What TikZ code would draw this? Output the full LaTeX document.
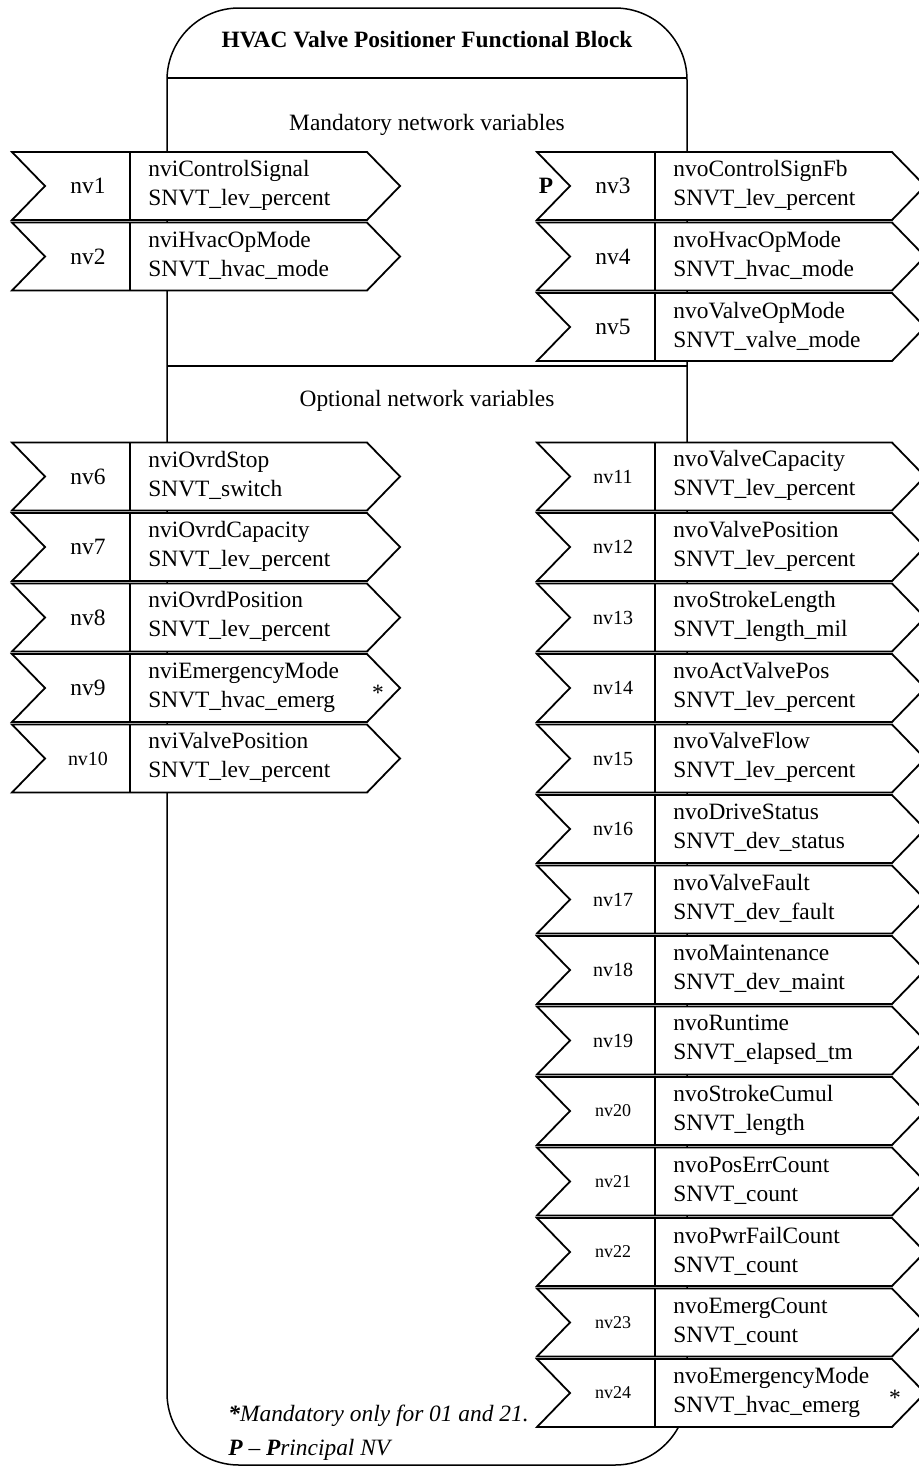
\documentclass[tikz,border=0pt]{standalone}
\usepackage{fontspec}
\setmainfont{Liberation Serif}

\newcommand{\nvbig}{\fontsize{11.7}{14.5}\selectfont}
\newcommand{\nvmid}{\fontsize{10}{12}\selectfont}
\newcommand{\nvsmall}{\fontsize{9}{11}\selectfont}

\tikzset{
    blockline/.style={draw=black, line width=0.75pt},
    nvframe/.style={draw=black, line width=0.9pt, fill=white, line join=miter},
    nvtext/.style={anchor=west, align=left, inner sep=0pt, font=\nvbig},
    nvlabel/.style={inner sep=0pt}
}

% one network variable box: name, left x, top y, label font, two text lines
\newcommand{\nvbox}[5]{%
    \draw[nvframe] (#2,#3) -- ++(355,0) -- ++(33,34) -- ++(-33,34)
        -- ++(-355,0) -- ++(33,-34) -- cycle;
    \draw[nvframe] (#2+118,#3) -- ++(0,68);
    \node[nvlabel, font=#4] (#1) at (#2+76,#3+34) {#1};
    \node[nvtext] (#1txt) at (#2+136,#3+33) {#5};
}

\begin{document}
\begin{tikzpicture}[x=0.5pt,y=-0.5pt]

\fill[white] (0,0) rectangle (919,1467);
\useasboundingbox (0,0) rectangle (919,1467);

% functional block
\draw[blockline, rounded corners=36pt] (167,700) -- (167,8) -- (687,8)
    -- (687,1465) -- (167,1465) -- cycle;
\draw[blockline] (167,78) -- (687,78);
\draw[blockline] (167,366) -- (687,366);

\node[font=\bfseries\nvbig] (title) at (427,40) {HVAC Valve Positioner Functional Block};
\node[font=\nvbig] (mandatory) at (427,125) {Mandatory network variables};
\node[font=\nvbig] (optional) at (427,401) {Optional network variables};

% mandatory inputs
\nvbox{nv1}{12}{152}{\nvbig}{nviControlSignal\\SNVT\_lev\_percent}
\nvbox{nv2}{12}{222.5}{\nvbig}{nviHvacOpMode\\SNVT\_hvac\_mode}

% mandatory outputs
\nvbox{nv3}{537}{152}{\nvbig}{nvoControlSignFb\\SNVT\_lev\_percent}
\nvbox{nv4}{537}{222.5}{\nvbig}{nvoHvacOpMode\\SNVT\_hvac\_mode}
\nvbox{nv5}{537}{293}{\nvbig}{nvoValveOpMode\\SNVT\_valve\_mode}
\node[font=\bfseries\nvbig] (principal) at (546,186) {P};

% optional inputs
\nvbox{nv6}{12}{442.5}{\nvbig}{nviOvrdStop\\SNVT\_switch}
\nvbox{nv7}{12}{513}{\nvbig}{nviOvrdCapacity\\SNVT\_lev\_percent}
\nvbox{nv8}{12}{583.5}{\nvbig}{nviOvrdPosition\\SNVT\_lev\_percent}
\nvbox{nv9}{12}{654}{\nvbig}{nviEmergencyMode\\SNVT\_hvac\_emerg}
\nvbox{nv10}{12}{724.5}{\nvmid}{nviValvePosition\\SNVT\_lev\_percent}
\node[font=\nvbig] (star9) at (378,693) {*};

% optional outputs
\nvbox{nv11}{537}{442.5}{\nvmid}{nvoValveCapacity\\SNVT\_lev\_percent}
\nvbox{nv12}{537}{513}{\nvmid}{nvoValvePosition\\SNVT\_lev\_percent}
\nvbox{nv13}{537}{583.5}{\nvmid}{nvoStrokeLength\\SNVT\_length\_mil}
\nvbox{nv14}{537}{654}{\nvmid}{nvoActValvePos\\SNVT\_lev\_percent}
\nvbox{nv15}{537}{724.5}{\nvmid}{nvoValveFlow\\SNVT\_lev\_percent}
\nvbox{nv16}{537}{795}{\nvmid}{nvoDriveStatus\\SNVT\_dev\_status}
\nvbox{nv17}{537}{865.5}{\nvmid}{nvoValveFault\\SNVT\_dev\_fault}
\nvbox{nv18}{537}{936}{\nvmid}{nvoMaintenance\\SNVT\_dev\_maint}
\nvbox{nv19}{537}{1006.5}{\nvmid}{nvoRuntime\\SNVT\_elapsed\_tm}
\nvbox{nv20}{537}{1077}{\nvsmall}{nvoStrokeCumul\\SNVT\_length}
\nvbox{nv21}{537}{1147.5}{\nvsmall}{nvoPosErrCount\\SNVT\_count}
\nvbox{nv22}{537}{1218}{\nvsmall}{nvoPwrFailCount\\SNVT\_count}
\nvbox{nv23}{537}{1288.5}{\nvsmall}{nvoEmergCount\\SNVT\_count}
\nvbox{nv24}{537}{1359}{\nvsmall}{nvoEmergencyMode\\SNVT\_hvac\_emerg}
\node[font=\nvbig] (star24) at (895,1398) {*};

% notes
\node[anchor=west, inner sep=0pt, font=\itshape\nvbig] (note1) at (228,1416)
    {\textbf{*}Mandatory only for 01 and 21.};
\node[anchor=west, inner sep=0pt, font=\itshape\nvbig] (note2) at (228,1450)
    {\textbf{P} -- \textbf{P}rincipal NV};

\end{tikzpicture}
\end{document}
